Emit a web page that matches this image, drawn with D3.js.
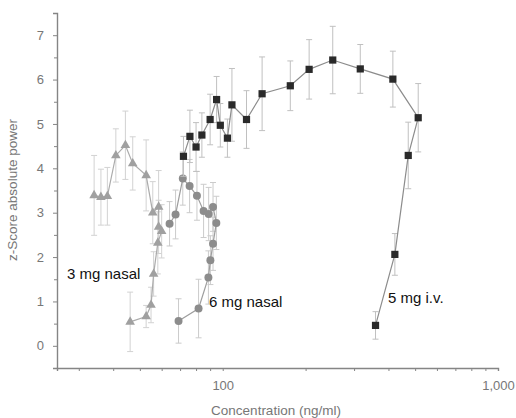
<!DOCTYPE html>
<html><head><meta charset="utf-8">
<script src="https://cdn.jsdelivr.net/npm/d3@7"></script>
<style>
body{margin:0;background:#fff;}
svg{display:block;font-family:"Liberation Sans",Arial,sans-serif;}
</style></head>
<body><svg id="c" width="516" height="418"></svg>
<script>
// 5 mg i.v. (squares)
const ivConc = [359, 422, 472, 513, 415, 316, 251, 206, 176, 139, 122, 108, 104, 98, 95, 90, 84, 80, 76, 72];
const ivZ    = [0.46, 2.06, 4.29, 5.14, 6.01, 6.24, 6.44, 6.23, 5.86, 5.68, 5.10, 5.43, 4.68, 4.97, 5.55, 5.10, 4.75, 4.48, 4.72, 4.27];
const ivErr  = [0.31, 0.47, 0.75, 0.77, 0.63, 0.55, 0.76, 0.67, 0.56, 0.83, 0.65, 0.82, 0.43, 0.49, 0.52, 0.57, 0.50, 0.55, 0.59, 0.45];
// 3 mg nasal (triangles)
const n3Conc = [46.1, 52.7, 54.9, 56.1, 58.1, 60.0, 58.5, 58.5, 55.7, 52.7, 47.1, 44.3, 40.9, 38.1, 36.1, 34.1];
const n3Z    = [0.54, 0.66, 0.92, 1.62, 2.32, 2.58, 2.68, 3.13, 3.00, 3.84, 4.11, 4.52, 4.29, 3.37, 3.35, 3.39];
const n3Err  = [0.67, 0.25, 0.40, 0.50, 0.70, 0.60, 0.60, 0.82, 0.70, 0.80, 0.60, 0.77, 0.60, 0.65, 0.63, 0.90];
// 6 mg nasal (circles)
const n6Conc = [69.1, 81.7, 88.7, 90.2, 92.2, 94.8, 92.2, 88.9, 85.2, 80.6, 75.8, 71.6, 67.4, 64.1];
const n6Z    = [0.56, 0.84, 1.54, 1.93, 2.30, 2.77, 3.13, 2.97, 3.04, 3.38, 3.60, 3.77, 2.96, 2.75];
const n6Err  = [0.50, 0.66, 0.60, 0.55, 0.60, 0.60, 0.55, 0.60, 0.60, 0.55, 0.60, 0.60, 0.55, 0.50];

const yTicks = [0, 1, 2, 3, 4, 5, 6, 7];
const yMinor = [-0.5, 0.5, 1.5, 2.5, 3.5, 4.5, 5.5, 6.5, 7.5];
const xTicks = [30, 40, 50, 60, 70, 80, 90, 100, 200, 300, 400, 500, 600, 700, 800, 900, 1000];
const xLabels = {100: "100", 1000: "1,000"};
const seriesLabels = ["3 mg nasal", "6 mg nasal", "5 mg i.v."];

const svg = d3.select("#c");
const L = 57, R = 498, T = 13, B = 368;
const x = d3.scaleLog().domain([25, 1000]).range([L, R]);
const y = d3.scaleLinear().domain([-0.5, 7.5]).range([B, T]);

const axisCol = "#858585", textCol = "#777";

// Y axis
svg.append("g").attr("transform", `translate(${L},0)`)
  .call(d3.axisLeft(y).tickValues(yTicks).tickSize(4).tickPadding(9).tickFormat(d3.format("d")));
svg.append("g").attr("transform", `translate(${L},0)`)
  .call(d3.axisLeft(y).tickValues(yMinor).tickSize(3).tickFormat(""))
  .select(".domain").remove();
// X axis
svg.append("g").attr("transform", `translate(0,${B})`)
  .call(d3.axisBottom(x).tickValues(xTicks).tickSize(3).tickPadding(10).tickFormat(d => xLabels[d] || ""));
svg.selectAll(".domain").attr("stroke", axisCol).attr("stroke-width", 1.4);
svg.selectAll(".tick line").attr("stroke", axisCol);
svg.selectAll(".tick text").attr("fill", textCol).style("font-size", "13px").style("font-family", "'Liberation Sans',Arial,sans-serif");

// axis titles
svg.append("text").attr("x", 276).attr("y", 415).attr("text-anchor", "middle")
  .attr("fill", textCol).style("font-size", "13.5px").text("Concentration (ng/ml)");
svg.append("text").attr("transform", `translate(17,190) rotate(-90)`)
  .attr("text-anchor", "middle").attr("fill", textCol).style("font-size", "13.5px").text("z-Score absolute power");

function series(conc, z, err, opts) {
  const data = conc.map((c, i) => ({c, z: z[i], e: err[i]}));
  const g = svg.append("g");
  const eb = g.append("g").attr("stroke", opts.errCol).attr("stroke-width", 1);
  data.forEach(d => {
    const cx = x(d.c);
    eb.append("line").attr("x1", cx).attr("x2", cx).attr("y1", y(d.z + d.e)).attr("y2", y(d.z - d.e));
    eb.append("line").attr("x1", cx - 3).attr("x2", cx + 3).attr("y1", y(d.z + d.e)).attr("y2", y(d.z + d.e));
    eb.append("line").attr("x1", cx - 3).attr("x2", cx + 3).attr("y1", y(d.z - d.e)).attr("y2", y(d.z - d.e));
  });
  g.append("path").datum(data)
    .attr("d", d3.line().x(d => x(d.c)).y(d => y(d.z)))
    .attr("fill", "none").attr("stroke", opts.lineCol).attr("stroke-width", 1.2);
  g.selectAll(".pt").data(data).enter().append("path")
    .attr("transform", d => `translate(${x(d.c)},${y(d.z)})`)
    .attr("d", d3.symbol().type(opts.sym).size(opts.size))
    .attr("fill", opts.col);
}

series(n3Conc, n3Z, n3Err, {errCol: "#d2d2d2", lineCol: "#ababab", col: "#a0a0a0", sym: d3.symbolTriangle, size: 40});
series(n6Conc, n6Z, n6Err, {errCol: "#cbcbcb", lineCol: "#9e9e9e", col: "#8c8c8c", sym: d3.symbolCircle, size: 50});
series(ivConc, ivZ, ivErr, {errCol: "#c0c0c0", lineCol: "#8c8c8c", col: "#2a2a2a", sym: d3.symbolSquare, size: 52});

// series labels
const lab = [[67, 279], [209, 306.5], [388, 303]];
seriesLabels.forEach((t, i) => {
  svg.append("text").attr("x", lab[i][0]).attr("y", lab[i][1]).attr("fill", "#111")
    .style("font-size", "15px").text(t);
});
</script></body></html>
